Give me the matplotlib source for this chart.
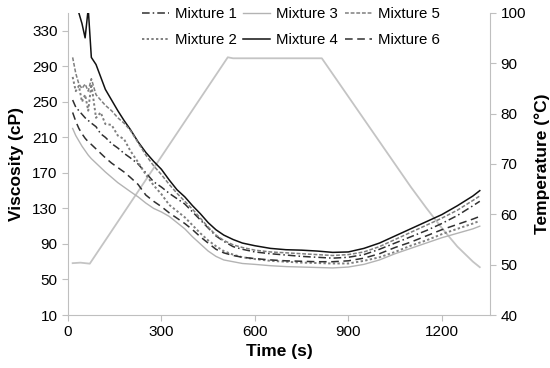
#!/usr/bin/env python3
import numpy as np
import matplotlib
matplotlib.use("Agg")
import matplotlib.pyplot as plt

plt.rcParams["font.family"] = ["Liberation Sans", "DejaVu Sans"]

# time grid (s) shared by the viscosity curves
time_s = [15, 25, 35, 45, 55, 65, 75, 90, 105, 120, 140, 160, 180, 200, 225,
          250, 275, 300, 325, 350, 375, 400, 425, 450, 475, 500, 530, 560, 600,
          650, 700, 750, 800, 850, 900, 950, 1000, 1050, 1100, 1150, 1200,
          1250, 1300, 1322]

# viscosity (cP)
mix1 = [252, 244, 240, 236, 232, 229, 226, 222, 214, 210, 203, 198, 192, 187,
        180, 170, 160, 154, 147, 141, 135, 126, 117, 108, 99, 93, 87, 84, 81,
        79, 77.5, 76, 75, 74, 75, 78, 84, 91, 98, 105, 113, 122, 133, 138]
mix2 = [278, 262, 268, 250, 258, 240, 270, 232, 238, 225, 224, 212, 208, 195,
        182, 168, 156, 146, 134, 127, 120, 111, 102, 94, 87.5, 82, 78, 75,
        73, 71, 70, 69, 68.5, 68, 68, 71, 75, 81, 88, 94, 101, 107, 113, 116]
mix3 = [220, 212, 206, 200, 195, 190, 186, 181, 176, 171, 165, 159, 154, 149,
        143, 136, 130, 126, 121, 114, 107, 98, 90, 82, 76, 72, 70, 68, 67,
        65.5, 64.5, 64, 63.5, 63, 64, 67, 72, 79, 85, 91, 97, 102, 107, 110]
mix4 = [np.nan, np.nan, 350, 338, 322, 355, 300, 292, 278, 264, 252, 240, 229,
        219, 205, 193, 183, 174, 162, 151, 143, 133, 124, 114, 106, 100, 95,
        91, 88, 85, 83.5, 83, 82, 80.5, 81, 85, 91, 99, 107, 115, 123, 133,
        144, 150]
mix5 = [300, 282, 270, 265, 270, 262, 276, 258, 252, 246, 240, 232, 226, 218,
        204, 190, 178, 168, 157, 147, 138, 129, 119, 109, 100, 94, 89, 86, 83,
        81, 80, 79, 78, 77, 78, 81, 87, 95, 103, 111, 119, 128, 139, 144]
mix6 = [238, 228, 220, 214, 209, 205, 202, 197, 192, 187, 181, 176, 171, 165,
        157, 145, 138, 132, 125, 119, 113, 106, 98, 91, 84, 80, 77, 75, 73.5,
        72, 71, 70.5, 70, 70, 71, 74, 79, 86, 92, 99, 106, 112, 118, 121]

# temperature profile (°C)
temp_time = [15, 40, 70, 513, 530, 815, 1100, 1150, 1200, 1250, 1300, 1322]
temp_c = [50.3, 50.4, 50.2, 91.2, 91.0, 91.0, 65.5, 61.3, 57.3, 53.6, 50.6, 49.5]

x_ticks = [0, 300, 600, 900, 1200]
visc_ticks = [10, 50, 90, 130, 170, 210, 250, 290, 330]
temp_ticks = [40, 50, 60, 70, 80, 90, 100]

fig = plt.figure(figsize=(5.5, 3.68), dpi=100)
ax = fig.add_axes([0.1236, 0.144, 0.7674, 0.8207])
ax2 = ax.twinx()

spine_col = "#bfbfbf"
ax2.plot(temp_time, temp_c, color="#c4c4c4", lw=1.3, zorder=1)

ax.set_zorder(ax2.get_zorder() + 1)
ax.patch.set_visible(False)

series = [
    ("Mixture 1", mix1, dict(color="#303030", ls=(0, (5, 2, 1, 2)), lw=1.1)),
    ("Mixture 2", mix2, dict(color="#7f7f7f", ls=(0, (1.2, 1.2)), lw=1.4)),
    ("Mixture 3", mix3, dict(color="#b3b3b3", ls="-", lw=1.0)),
    ("Mixture 4", mix4, dict(color="#111111", ls="-", lw=1.1)),
    ("Mixture 5", mix5, dict(color="#7f7f7f", ls=(0, (2.5, 1.2)), lw=1.1)),
    ("Mixture 6", mix6, dict(color="#303030", ls=(0, (5, 3)), lw=1.1)),
]
for name, vals, style in series:
    ax.plot(time_s, vals, label=name, **style)

ax.set_xlim(0, 1355)
ax.set_ylim(10, 350)
ax2.set_ylim(40, 100)
ax.set_xticks(x_ticks)
ax.set_yticks(visc_ticks)
ax2.set_yticks(temp_ticks)

for a in (ax, ax2):
    a.spines["top"].set_visible(False)
    for s in ("left", "right", "bottom"):
        a.spines[s].set_color(spine_col)
    a.tick_params(colors=spine_col, labelcolor="black", labelsize=11,
                  length=4, width=0.8)
ax.spines["right"].set_visible(False)
ax2.spines["left"].set_visible(False)
ax2.spines["bottom"].set_visible(False)

ax.set_xlabel("Time (s)", fontsize=12.5, fontweight="bold", labelpad=3)
ax.set_ylabel("Viscosity (cP)", fontsize=12.5, fontweight="bold", labelpad=6)
ax2.set_ylabel("Temperature (°C)", fontsize=12.5, fontweight="bold", labelpad=6)

ax.legend(loc="upper left", bbox_to_anchor=(0.143, 1.065), ncol=3,
          frameon=False, fontsize=10.8, handlelength=1.8, handletextpad=0.4,
          columnspacing=0.45, labelspacing=0.8)

fig.savefig("out.png", dpi=100)
plt.close(fig)
